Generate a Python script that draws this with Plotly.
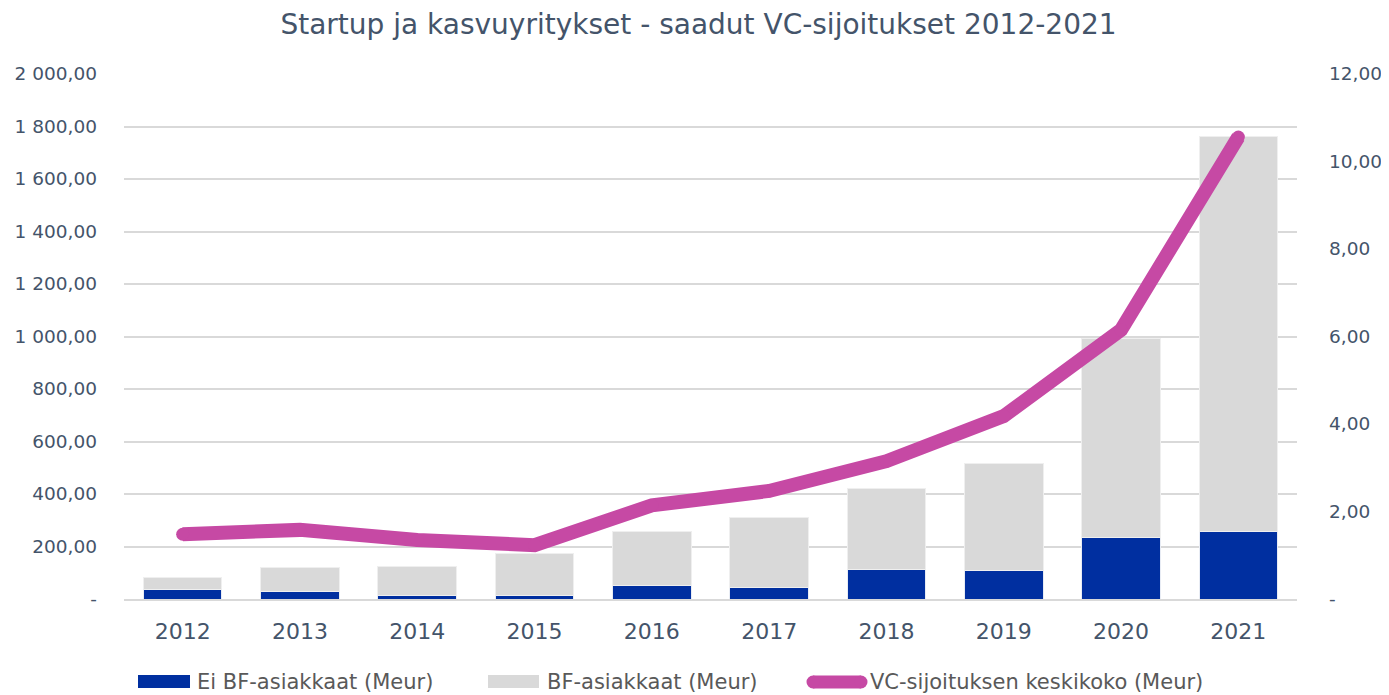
import plotly.graph_objects as go

years = ["2012", "2013", "2014", "2015", "2016", "2017", "2018", "2019", "2020", "2021"]
ei_bf = [35.6, 29, 12.7, 12.7, 51, 42, 112, 108, 236, 258]
bf = [47, 90, 110, 161, 205, 270, 308, 408, 758, 1505]
vc_avg = [1.48, 1.58, 1.35, 1.23, 2.14, 2.47, 3.15, 4.18, 6.15, 10.56]

left_vals = [0, 200, 400, 600, 800, 1000, 1200, 1400, 1600, 1800, 2000]
left_text = ["-", "200,00", "400,00", "600,00", "800,00", "1 000,00", "1 200,00",
             "1 400,00", "1 600,00", "1 800,00", "2 000,00"]
right_vals = [0, 2, 4, 6, 8, 10, 12]
right_text = ["-", "2,00", "4,00", "6,00", "8,00", "10,00", "12,00"]

names = ["Ei BF-asiakkaat (Meur)", "BF-asiakkaat (Meur)", "VC-sijoituksen keskikoko (Meur)"]

TXT = "#44546A"
LEG = "#595959"
FONT = "DejaVu Sans"
BLUE = "#002FA0"
GRAY = "#D9D9D9"
PINK = "#C649A4"

# page body has an 8px margin; figure is sized/positioned to compensate
OFF = 8
W, H = 1389 - OFF, 695 - OFF
L, T = 124 - OFF, 74 - OFF
PW, PH = 1173, 525
R = W - L - PW
B = H - T - PH


def px(x):
    return (x - OFF - L) / PW


def py(y):
    return (H - B - (y - OFF)) / PH


fig = go.Figure()
fig.add_trace(go.Bar(x=years, y=ei_bf, name=names[0],
                     marker=dict(color=BLUE, line=dict(color="#E8ECF4", width=1))))
fig.add_trace(go.Bar(x=years, y=bf, name=names[1],
                     marker=dict(color=GRAY, line=dict(color="#EFEFEF", width=1))))
fig.add_trace(go.Scatter(x=years, y=vc_avg, name=names[2],
                         mode="lines+markers", yaxis="y2",
                         line=dict(color=PINK, width=14),
                         marker=dict(color=PINK, size=13, line=dict(width=0))))

shapes = [
    dict(type="rect", xref="paper", yref="paper", x0=px(138), x1=px(190), y0=py(688), y1=py(675),
         fillcolor=BLUE, line=dict(width=0)),
    dict(type="rect", xref="paper", yref="paper", x0=px(488), x1=px(539), y0=py(688), y1=py(675),
         fillcolor=GRAY, line=dict(width=0)),
    dict(type="line", xref="paper", yref="paper", x0=px(813), x1=px(861), y0=py(682), y1=py(682),
         line=dict(color=PINK, width=13)),
]
for cx in (813, 861):
    shapes.append(dict(type="circle", xref="paper", yref="paper", xsizemode="pixel", ysizemode="pixel",
                       xanchor=px(cx), yanchor=py(682), x0=-6.5, x1=6.5, y0=-6.5, y1=6.5,
                       fillcolor=PINK, line=dict(width=0)))

annotations = []
for name, xs in zip(names, (195, 545, 868)):
    annotations.append(dict(text=name, xref="paper", yref="paper", x=px(xs), y=py(682),
                            xanchor="left", yanchor="middle", showarrow=False,
                            font=dict(family=FONT, size=21, color=LEG)))

fig.update_layout(
    width=W, height=H,
    barmode="stack", bargap=0.33,
    paper_bgcolor="white", plot_bgcolor="white",
    margin=dict(l=L, r=R, t=T, b=B, autoexpand=False),
    showlegend=False,
    title=dict(text="Startup ja kasvuyritykset - saadut VC-sijoitukset 2012-2021",
               x=0.5, xanchor="center", y=1 - (24 - OFF) / H, yanchor="middle",
               font=dict(family=FONT, size=28, color=TXT)),
    font=dict(family=FONT, color=TXT),
    xaxis=dict(tickfont=dict(size=22, color=TXT), automargin=False, range=[-0.5, 9.5],
               showgrid=False, showline=True, linecolor=GRAY, linewidth=2,
               ticks="", ticklabelstandoff=12),
    yaxis=dict(range=[0, 2000], tickvals=left_vals, ticktext=left_text, automargin=False,
               tickfont=dict(size=18.5, color=TXT), gridcolor=GRAY, gridwidth=1.5,
               zeroline=False, ticks="", ticklabelstandoff=26),
    yaxis2=dict(range=[0, 12], tickvals=right_vals, ticktext=right_text, automargin=False,
                overlaying="y", side="right", showgrid=False, zeroline=False,
                tickfont=dict(size=18.5, color=TXT), ticks="", ticklabelstandoff=31),
    shapes=shapes,
    annotations=annotations,
)

fig.write_html("out.html")
